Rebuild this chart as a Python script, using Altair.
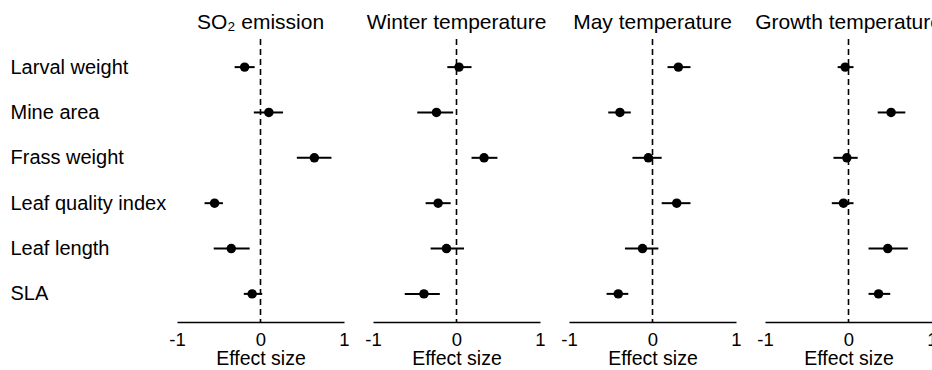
import altair as alt
import pandas as pd

rows = ["Larval weight", "Mine area", "Frass weight", "Leaf quality index", "Leaf length", "SLA"]
panels = ["SO₂ emission", "Winter temperature", "May temperature", "Growth temperature"]
ticks = [-1, 0, 1]

so2_est = [-0.19, 0.10, 0.645, -0.55, -0.35, -0.10]
so2_lo = [-0.31, -0.08, 0.435, -0.67, -0.56, -0.20]
so2_hi = [-0.07, 0.27, 0.85, -0.45, -0.13, 0.02]

win_est = [0.03, -0.24, 0.33, -0.22, -0.12, -0.39]
win_lo = [-0.11, -0.47, 0.18, -0.37, -0.31, -0.62]
win_hi = [0.18, -0.04, 0.49, -0.07, 0.09, -0.20]

may_est = [0.31, -0.39, -0.05, 0.29, -0.12, -0.41]
may_lo = [0.18, -0.53, -0.24, 0.11, -0.33, -0.55]
may_hi = [0.455, -0.26, 0.11, 0.455, 0.07, -0.29]

gro_est = [-0.04, 0.51, -0.02, -0.06, 0.47, 0.36]
gro_lo = [-0.13, 0.35, -0.18, -0.20, 0.24, 0.24]
gro_hi = [0.06, 0.68, 0.11, 0.06, 0.71, 0.50]

series = [
    (so2_est, so2_lo, so2_hi),
    (win_est, win_lo, win_hi),
    (may_est, may_lo, may_hi),
    (gro_est, gro_lo, gro_hi),
]

FONT = "Liberation Sans"
W, H = 167, 283


def make_panel(i):
    est, lo, hi = series[i]
    d = pd.DataFrame({"row": rows, "est": est, "lo": lo, "hi": hi})
    xscale = alt.Scale(domain=[-1, 1], nice=False, zero=False)
    xaxis = alt.Axis(values=ticks, labelExpr="'' + datum.value", ticks=False,
                     labelFlush=False, domainColor="black", domainWidth=1.6,
                     labelFontSize=18.5, labelFont=FONT, labelColor="black",
                     titleFontSize=19.5, titleFont=FONT, titleColor="black",
                     titleFontWeight="normal", labelPadding=8, titlePadding=1,
                     grid=False)
    if i == 0:
        yaxis = alt.Axis(domain=False, ticks=False, labelAlign="left",
                         labelPadding=167, labelFontSize=20, labelFont=FONT,
                         labelColor="black", labelLimit=400, grid=False,
                         labelBaseline="middle")
    else:
        yaxis = None
    yscale = alt.Scale(type="point", padding=0.62)
    yenc = alt.Y("row:N", sort=rows, scale=yscale, axis=yaxis, title=None)

    base = alt.Chart(d)
    zero = alt.Chart(pd.DataFrame({"z": [0]})).mark_rule(
        color="black", strokeWidth=1.6, strokeDash=[6, 4]
    ).encode(x=alt.X("z:Q", scale=xscale, axis=xaxis, title="Effect size"))
    bars = base.mark_rule(color="black", strokeWidth=2).encode(
        x=alt.X("lo:Q", scale=xscale, axis=xaxis, title="Effect size"),
        x2="hi:Q",
        y=yenc,
    )
    pts = base.mark_circle(color="black", opacity=1, size=90).encode(
        x=alt.X("est:Q", scale=xscale, axis=xaxis, title="Effect size"),
        y=yenc,
    )
    return alt.layer(zero, bars, pts).properties(
        width=W, height=H,
        title=alt.TitleParams(panels[i], fontSize=21, font=FONT, color="black",
                              fontWeight="normal", anchor="middle", offset=5),
    )


chart = alt.hconcat(*[make_panel(i) for i in range(4)], spacing=29, bounds="flush").properties(
    padding={"left": 10, "top": 12, "right": -10, "bottom": 0},
    background="white",
).configure_view(strokeWidth=0, stroke="transparent")

chart.save("out.html", embed_options={"renderer": "svg", "actions": False})
